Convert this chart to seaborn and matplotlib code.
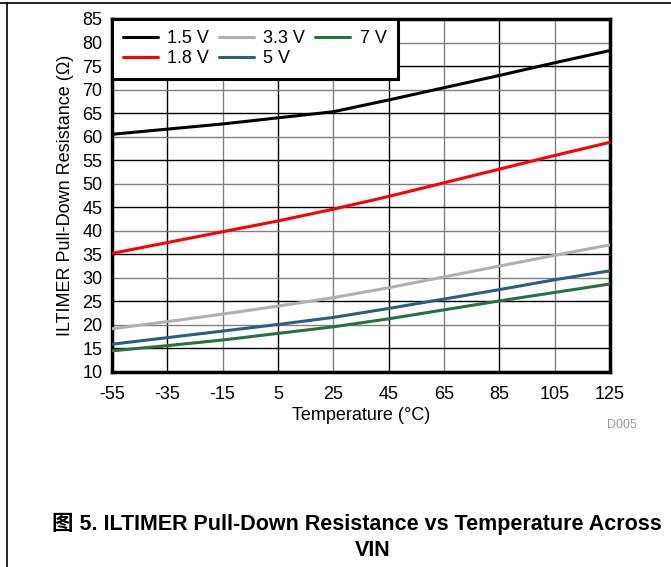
import numpy as np
import pandas as pd
import matplotlib
matplotlib.use("Agg")
import matplotlib.pyplot as plt
import seaborn as sns
from matplotlib.lines import Line2D

temps = [-55, -35, -15, 5, 25, 45, 65, 85, 105, 125]
v1_5 = [60.5, 61.6, 62.7, 64.0, 65.3, 67.8, 70.4, 73.0, 75.7, 78.3]
v1_8 = [35.2, 37.5, 39.8, 42.1, 44.6, 47.3, 50.2, 53.1, 56.0, 58.8]
v3_3 = [19.2, 20.7, 22.3, 24.0, 25.8, 27.9, 30.2, 32.5, 34.8, 37.0]
v5 = [15.9, 17.3, 18.7, 20.1, 21.6, 23.5, 25.5, 27.5, 29.6, 31.5]
v7 = [14.5, 15.6, 16.8, 18.2, 19.6, 21.3, 23.2, 25.1, 26.9, 28.7]
series_names = ["1.5 V", "1.8 V", "3.3 V", "5 V", "7 V"]
series_vals = [v1_5, v1_8, v3_3, v5, v7]
colors = ["#000000", "#ff0000", "#b0b0b0", "#2a5f7f", "#2a7040"]
xticks = [-55, -35, -15, 5, 25, 45, 65, 85, 105, 125]
yticks = list(range(10, 90, 5))

rows = []
for name, vals in zip(series_names, series_vals):
    for t, v in zip(temps, vals):
        rows.append({"Temperature": t, "R": v, "VIN": name})
df = pd.DataFrame(rows)

sns.set_theme(style="white")
plt.rcParams['font.family'] = ['Liberation Sans', 'Noto Sans CJK SC', 'DejaVu Sans']
plt.rcParams['text.color'] = 'black'
plt.rcParams['axes.labelcolor'] = 'black'
plt.rcParams['xtick.color'] = 'black'
plt.rcParams['ytick.color'] = 'black'

FS = 13
fig = plt.figure(figsize=(6.71, 5.67), dpi=100)
ax = fig.add_axes([112/671, 1-372/567, (610-112)/671, (372-19)/567])

sns.lineplot(data=df, x="Temperature", y="R", hue="VIN", hue_order=series_names,
             palette=colors, linewidth=2.2, ax=ax, legend=False, zorder=3)

ax.set_xlim(-55, 125)
ax.set_ylim(10, 85)
ax.set_xticks(xticks)
ax.set_yticks(yticks)
ax.set_xticklabels([str(t) for t in xticks], fontsize=FS)
ax.set_yticklabels([str(t) for t in yticks], fontsize=FS)
ax.tick_params(axis='y', length=0, pad=7, colors='black')
ax.tick_params(axis='x', length=0, pad=10, colors='black')

for i, t in enumerate(xticks[1:-1]):
    ax.axvline(t, color='black' if i % 2 == 0 else '#808080', lw=1, zorder=1)
for i, t in enumerate(yticks[1:-1]):
    ax.axhline(t, color='black' if i % 2 == 0 else '#808080', lw=1, zorder=1)

for s in ax.spines.values():
    s.set_color('black')
    s.set_linewidth(2.5)
    s.set_visible(True)

ax.set_xlabel("Temperature (°C)", fontsize=FS, labelpad=3, color='black')
ax.set_ylabel("ILTIMER Pull-Down Resistance (Ω)", fontsize=FS, labelpad=6, color='black')

handles = [Line2D([0], [0], color=c, lw=2.2) for c in colors]
leg = ax.legend(handles, series_names, ncol=3, loc='upper left', fontsize=FS,
                frameon=True, fancybox=False, borderaxespad=0, handlelength=1.9,
                columnspacing=0.55, handletextpad=0.55, labelspacing=0.18,
                borderpad=0.62)
leg.get_frame().set_edgecolor('black')
leg.get_frame().set_linewidth(2.2)
leg.get_frame().set_alpha(1)
leg.set_zorder(5)

fig.text(622/671, 1-425/567, "D005", fontsize=9, color='#999999', ha='center', va='center')
fig.text(52/671, 1-524/567, "图 5. ILTIMER Pull-Down Resistance vs Temperature Across",
         fontsize=15.5, fontweight='bold', ha='left', va='center')
fig.text(373/671, 1-550/567, "VIN", fontsize=15.5, fontweight='bold', ha='center', va='center')

fig.add_artist(Line2D([0, 1], [1-3/567, 1-3/567], color='black', lw=1.2, transform=fig.transFigure))
fig.add_artist(Line2D([7/671, 7/671], [0, 1-3/567], color='black', lw=1.2, transform=fig.transFigure))

fig.savefig("out.png", dpi=100)
